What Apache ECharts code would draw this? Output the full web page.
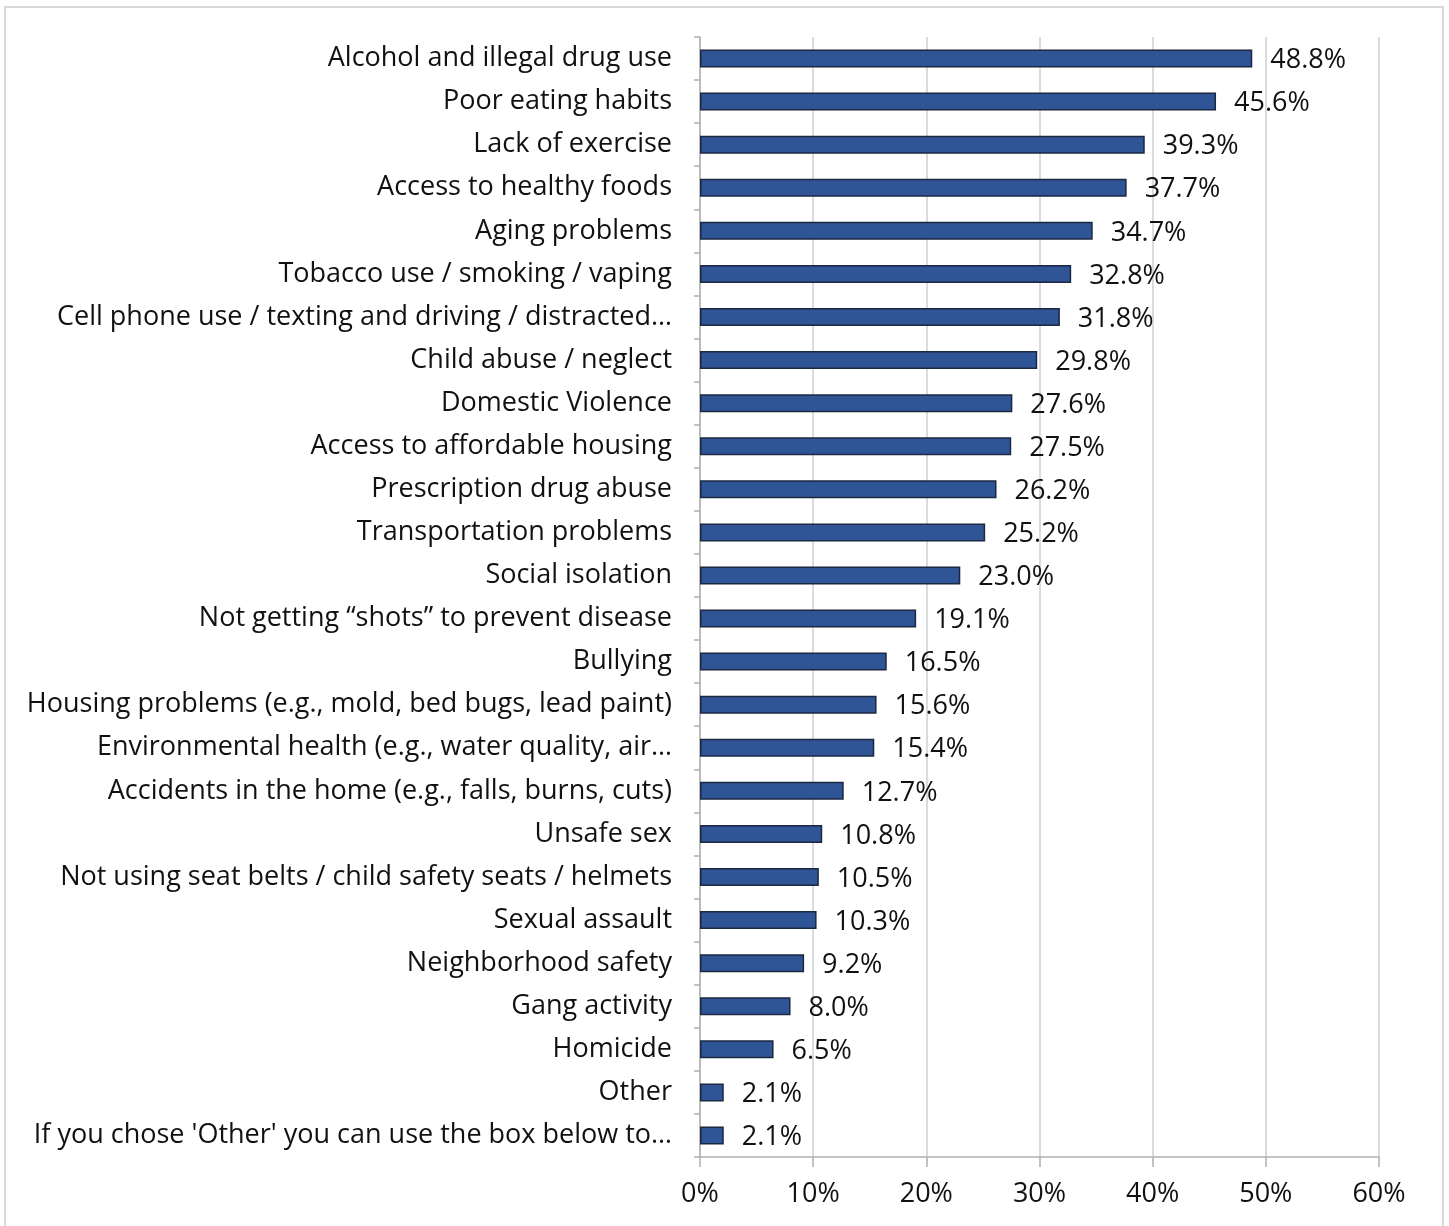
<!DOCTYPE html>
<html>
<head>
    <meta charset="utf-8">
    <title>Health issues</title>
    <script src="https://cdn.jsdelivr.net/npm/echarts@6/dist/echarts.min.js"></script>
    <style>
        body { margin: 0; background: #fff; }
    </style>
</head>
<body>
<div id="main" style="width: 1449px;height:1226px;"></div>
<script type="text/javascript">
    // categories, top to bottom
    const categories = [
        'Alcohol and illegal drug use',
        'Poor eating habits',
        'Lack of exercise',
        'Access to healthy foods',
        'Aging problems',
        'Tobacco use / smoking / vaping',
        'Cell phone use / texting and driving / distracted…',
        'Child abuse / neglect',
        'Domestic Violence',
        'Access to affordable housing',
        'Prescription drug abuse',
        'Transportation problems',
        'Social isolation',
        'Not getting \u201cshots\u201d to prevent disease',
        'Bullying',
        'Housing problems (e.g., mold, bed bugs, lead paint)',
        'Environmental health (e.g., water quality, air…',
        'Accidents in the home (e.g., falls, burns, cuts)',
        'Unsafe sex',
        'Not using seat belts / child safety seats / helmets',
        'Sexual assault',
        'Neighborhood safety',
        'Gang activity',
        'Homicide',
        'Other',
        "If you chose 'Other' you can use the box below to…"
    ];
    // percent of respondents
    const values = [48.8, 45.6, 39.3, 37.7, 34.7, 32.8, 31.8, 29.8, 27.6, 27.5, 26.2, 25.2, 23.0,
        19.1, 16.5, 15.6, 15.4, 12.7, 10.8, 10.5, 10.3, 9.2, 8.0, 6.5, 2.1, 2.1];
    const axisMax = 60;
    const axisStep = 10;

    let myChart = echarts.init(document.getElementById('main'));
    const font = '"Open Sans", Lato, sans-serif';

    myChart.setOption({
        animation: false,
        backgroundColor: '#ffffff',
        graphic: [{
            type: 'rect',
            shape: { x: 5, y: 7, width: 1438, height: 1240 },
            style: { fill: 'none', stroke: '#d9d9d9', lineWidth: 2 }
        }],
        grid: {
            left: 700,
            right: 70,
            top: 37,
            bottom: 69
        },
        xAxis: {
            type: 'value',
            min: 0,
            max: axisMax,
            interval: axisStep,
            axisLine: { show: true, lineStyle: { color: '#b0b0b0', width: 1.5 } },
            axisTick: { show: true, length: 10, lineStyle: { color: '#b0b0b0', width: 1.5 } },
            splitLine: { show: true, lineStyle: { color: '#cfcfcf', width: 1.5 } },
            axisLabel: {
                formatter: '{value}%',
                color: '#111111',
                fontFamily: font,
                fontSize: 27,
                margin: 24
            }
        },
        yAxis: {
            type: 'category',
            inverse: true,
            data: categories,
            axisLine: { show: true, lineStyle: { color: '#b0b0b0', width: 1.5 } },
            axisTick: { show: true, length: 6, lineStyle: { color: '#b0b0b0', width: 1.5 } },
            axisLabel: {
                color: '#111111',
                fontFamily: font,
                fontSize: 27,
                margin: 28,
                padding: [3, 0, 0, 0]
            }
        },
        series: [{
            type: 'bar',
            data: values,
            barWidth: 18,
            itemStyle: {
                color: '#2f5597',
                borderColor: '#1c2740',
                borderWidth: 1.5
            },
            label: {
                show: true,
                position: 'right',
                distance: 18,
                offset: [0, 2],
                color: '#111111',
                fontFamily: font,
                fontSize: 27,
                formatter: function (p) { return p.value.toFixed(1) + '%'; }
            }
        }]
    });
</script>
</body>
</html>
